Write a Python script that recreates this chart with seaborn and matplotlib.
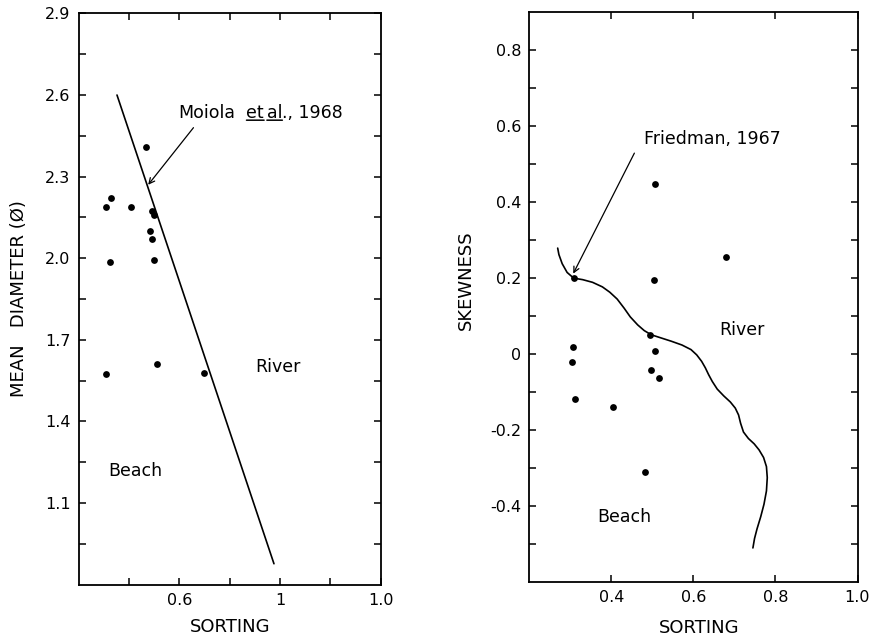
import matplotlib
matplotlib.use("Agg")
import matplotlib.pyplot as plt
import seaborn as sns
import pandas as pd

# left panel: sorting vs mean diameter
sort_a = [0.534, 0.464, 0.454, 0.504, 0.546, 0.550, 0.542, 0.546, 0.550, 0.462, 0.454, 0.556, 0.648]
mean_a = [2.41, 2.22, 2.19, 2.19, 2.175, 2.16, 2.10, 2.07, 1.995, 1.985, 1.576, 1.61, 1.58]

# Moiola et al. 1968 boundary line
moiola_x = [0.476, 0.788]
moiola_y = [2.60, 0.877]

# right panel: sorting vs skewness
sort_b = [0.507, 0.679, 0.504, 0.308, 0.495, 0.307, 0.506, 0.303, 0.496, 0.516, 0.312, 0.404, 0.481]
skew_b = [0.448, 0.255, 0.194, 0.200, 0.051, 0.020, 0.007, -0.021, -0.041, -0.063, -0.118, -0.138, -0.309]

# Friedman 1967 boundary curve (traced by eye)
fried_x = [0.269, 0.272, 0.280, 0.292, 0.308, 0.330, 0.354, 0.378, 0.396, 0.414, 0.431,
           0.446, 0.464, 0.480, 0.497, 0.520, 0.546, 0.572, 0.594, 0.608, 0.620, 0.629,
           0.637, 0.646, 0.658, 0.674, 0.690, 0.702, 0.710, 0.715, 0.722, 0.734, 0.748,
           0.760, 0.771, 0.778, 0.780, 0.778, 0.772, 0.764, 0.755, 0.749, 0.745]
fried_y = [0.279, 0.262, 0.238, 0.215, 0.200, 0.196, 0.189, 0.177, 0.163, 0.145, 0.121,
           0.098, 0.077, 0.062, 0.051, 0.043, 0.034, 0.024, 0.012, -0.002, -0.019, -0.036,
           -0.054, -0.072, -0.092, -0.110, -0.126, -0.142, -0.160, -0.182, -0.205, -0.222,
           -0.236, -0.252, -0.272, -0.296, -0.325, -0.360, -0.395, -0.428, -0.460, -0.485,
           -0.510]

# tick setup
xticks_a = [0.5, 0.6, 0.7, 0.8, 0.9, 1.0]
xlabels_a = ["", "0.6", "", "1", "", "1.0"]
yticks_a = [1.1, 1.4, 1.7, 2.0, 2.3, 2.6, 2.9]
yminor_a = [0.95, 1.25, 1.55, 1.85, 2.15, 2.45, 2.75]

xticks_b = [0.4, 0.6, 0.8, 1.0]
xlabels_b = ["0.4", "0.6", "0.8", "1.0"]
yticks_b = [-0.4, -0.2, 0.0, 0.2, 0.4, 0.6, 0.8]
ylabels_b = ["-0.4", "-0.2", "0", "0.2", "0.4", "0.6", "0.8"]
yminor_b = [-0.5, -0.3, -0.1, 0.1, 0.3, 0.5, 0.7]

sns.set_style("ticks")
plt.rcParams["font.family"] = ["DejaVu Sans"]
plt.rcParams["text.color"] = "black"
plt.rcParams["axes.labelcolor"] = "black"

fig = plt.figure(figsize=(8.75, 6.39), dpi=100)
ax1 = fig.add_axes([0.090, 0.085, 0.345, 0.894])
ax2 = fig.add_axes([0.605, 0.089, 0.375, 0.892])


def style_axes(ax):
    for s in ax.spines.values():
        s.set_linewidth(1.3)
        s.set_color("black")
    ax.tick_params(which="both", direction="in", top=True, right=True,
                   length=5, width=1.1, labelsize=11.5, colors="black",
                   labelcolor="black", pad=6)


# left panel
df_a = pd.DataFrame({"sorting": sort_a, "mean": mean_a})
sns.scatterplot(data=df_a, x="sorting", y="mean", ax=ax1, color="black", s=24,
                edgecolor="black", linewidth=0)
sns.lineplot(x=moiola_x, y=moiola_y, ax=ax1, color="black", lw=1.2,
             sort=False, estimator=None)
ax1.set_xlim(0.4, 1.0)
ax1.set_ylim(0.8, 2.9)
ax1.set_xticks(xticks_a)
ax1.set_xticklabels(xlabels_a)
ax1.set_yticks(yticks_a)
ax1.set_yticks(yminor_a, minor=True)
style_axes(ax1)
ax1.set_xlabel("SORTING", fontsize=13)
ax1.xaxis.set_label_coords(0.5, -0.058)
ax1.set_ylabel("MEAN   DIAMETER (Ø)", fontsize=13, labelpad=12)

# "Moiola et al., 1968" with underlined et / al
t1 = ax1.text(0.598, 2.534, "Moiola", fontsize=12.5, va="center")
t2 = ax1.annotate("et", xy=(1, 0), xycoords=t1, fontsize=12.5, va="bottom",
                  xytext=(8, 0), textcoords="offset points")
t3 = ax1.annotate("al", xy=(1, 0), xycoords=t2, fontsize=12.5, va="bottom",
                  xytext=(2, 0), textcoords="offset points")
t4 = ax1.annotate("., 1968", xy=(1, 0), xycoords=t3, fontsize=12.5, va="bottom")
for t in (t2, t3):
    ax1.annotate("", xy=(1, 0.1), xycoords=t, xytext=(0, 0.1), textcoords=t,
                 arrowprops=dict(arrowstyle="-", lw=1.1, color="black",
                                 shrinkA=0, shrinkB=0))
ax1.annotate("", xy=(0.538, 2.27), xytext=(0.628, 2.48),
             arrowprops=dict(arrowstyle="->", lw=0.9, color="black",
                             shrinkA=0, shrinkB=0))
ax1.text(0.75, 1.60, "River", fontsize=12.5, va="center")
ax1.text(0.459, 1.217, "Beach", fontsize=12.5, va="center")

# right panel
df_b = pd.DataFrame({"sorting": sort_b, "skewness": skew_b})
sns.scatterplot(data=df_b, x="sorting", y="skewness", ax=ax2, color="black", s=24,
                edgecolor="black", linewidth=0)
sns.lineplot(x=fried_x, y=fried_y, ax=ax2, color="black", lw=1.2,
             sort=False, estimator=None)
ax2.set_xlim(0.2, 1.0)
ax2.set_ylim(-0.6, 0.9)
ax2.set_xticks(xticks_b)
ax2.set_xticklabels(xlabels_b)
ax2.set_yticks(yticks_b)
ax2.set_yticklabels(ylabels_b)
ax2.set_yticks(yminor_b, minor=True)
style_axes(ax2)
ax2.set_xlabel("SORTING", fontsize=13)
ax2.xaxis.set_label_coords(0.518, -0.064)
ax2.set_ylabel("SKEWNESS", fontsize=13)
ax2.yaxis.set_label_coords(-0.165, 0.53)

ax2.text(0.48, 0.566, "Friedman, 1967", fontsize=12.5, va="center")
ax2.annotate("", xy=(0.307, 0.212), xytext=(0.456, 0.529),
             arrowprops=dict(arrowstyle="->", lw=0.9, color="black",
                             shrinkA=0, shrinkB=0))
ax2.text(0.662, 0.064, "River", fontsize=12.5, va="center")
ax2.text(0.366, -0.429, "Beach", fontsize=12.5, va="center")

fig.savefig("out.png", dpi=100)
